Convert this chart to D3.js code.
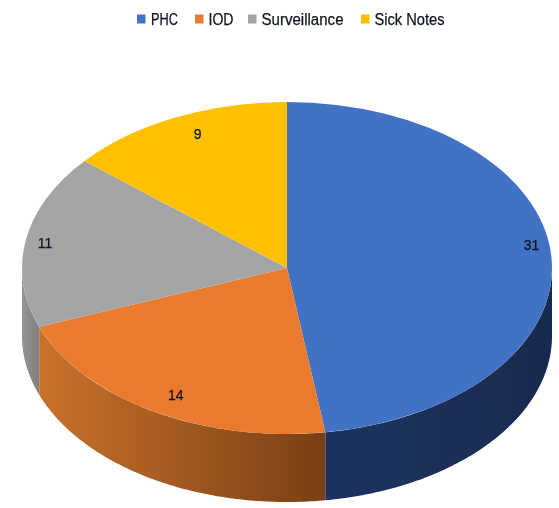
<!DOCTYPE html>
<html>
<head>
<meta charset="utf-8">
<script src="https://cdn.jsdelivr.net/npm/d3@7"></script>
<style>
html,body{margin:0;padding:0;background:#fff}
svg{display:block}
text{font-family:"Liberation Sans",Arial,sans-serif;fill:#0e1520;stroke:#0e1520;stroke-width:0.25px}
</style>
</head>
<body>
<svg id="c" width="559" height="508"></svg>
<script>
const categories = ["PHC", "IOD", "Surveillance", "Sick Notes"];
const values = [31, 14, 11, 9];
const topColors = ["#4272c3", "#e97a2f", "#a5a5a5", "#ffc000"];
const wallLeft = ["#1e3360", "#c9722c", "#949494", "#8a6a00"];
const wallRight = ["#192b4e", "#7a3f15", "#7f7f7f", "#8a6a00"];
const labelNudge = [[12,-12],[7,1],[-12,0],[9,-2]];

const W = 559, H = 508, cx = 287, cy = 268, rx = 265, ry = 166, depth = 68;

const svg = d3.select("#c");
const defs = svg.append("defs");
defs.append("filter").attr("id","soft").attr("x","-5%").attr("y","-5%").attr("width","110%").attr("height","110%")
  .append("feGaussianBlur").attr("stdDeviation",0.7);
defs.append("filter").attr("id","softText").attr("filterUnits","userSpaceOnUse").attr("x",0).attr("y",0).attr("width",W).attr("height",H)
  .append("feGaussianBlur").attr("stdDeviation",0.45);

const pieData = d3.pie().sort(null).value(d => d)(values);
const sx = d3.scaleLinear().domain([-1,1]).range([cx-rx,cx+rx]);
const sy = d3.scaleLinear().domain([-1,1]).range([cy-ry,cy+ry]);

const root = svg.append("g").attr("filter","url(#soft)");

// front walls
const front = [Math.PI/2, Math.PI*3/2];
const wallData = pieData.map((p,i)=>({i,a0:Math.max(p.startAngle,front[0]),a1:Math.min(p.endAngle,front[1])}))
  .filter(d=>d.a1>d.a0);
wallData.forEach(d=>{
  const g = defs.append("linearGradient").attr("id","w"+d.i)
    .attr("gradientUnits","userSpaceOnUse")
    .attr("x1",sx(Math.min(Math.sin(d.a0),Math.sin(d.a1)))).attr("x2",sx(Math.max(Math.sin(d.a0),Math.sin(d.a1))))
    .attr("y1",0).attr("y2",0);
  g.append("stop").attr("offset",0).attr("stop-color",wallLeft[d.i]);
  g.append("stop").attr("offset",1).attr("stop-color",wallRight[d.i]);
  const angles = d3.range(0,121).map(k=>d.a0+(d.a1-d.a0)*k/120);
  const area = d3.area()
    .x(a=>sx(Math.sin(a)))
    .y0(a=>sy(-Math.cos(a)))
    .y1(a=>sy(-Math.cos(a))+depth);
  root.append("path").attr("d",area(angles)).attr("fill",`url(#w${d.i})`);
});

// top face
const arc = d3.arc().innerRadius(0).outerRadius(rx);
const topFace = root.append("g").attr("transform",`translate(${cx},${cy}) scale(1,${ry/rx})`);
topFace.selectAll("path").data(pieData).join("path")
  .attr("d",arc).attr("fill",(d,i)=>topColors[i]);

// data labels
const labelR = 0.88;
svg.append("g").attr("filter","url(#softText)").selectAll("text").data(pieData).join("text")
  .attr("x",(d,i)=>sx(labelR*Math.sin((d.startAngle+d.endAngle)/2))+labelNudge[i][0])
  .attr("y",(d,i)=>sy(-labelR*Math.cos((d.startAngle+d.endAngle)/2))+labelNudge[i][1])
  .attr("text-anchor","middle").attr("dominant-baseline","central")
  .attr("font-size",14).text(d=>d.data);

// legend
const legendX = [137,195,248,361];
const legendW = [27,25,82,70];
const leg = svg.append("g").attr("filter","url(#softText)");
categories.forEach((c,i)=>{
  leg.append("rect").attr("x",legendX[i]).attr("y",14.5).attr("width",8.5).attr("height",9).attr("fill",topColors[i]);
  leg.append("text").attr("x",legendX[i]+(i==0?14:13.5)).attr("y",19).attr("dominant-baseline","central")
    .attr("font-size",16).attr("textLength",legendW[i]).attr("lengthAdjust","spacingAndGlyphs").text(c);
});
</script>
</body>
</html>
